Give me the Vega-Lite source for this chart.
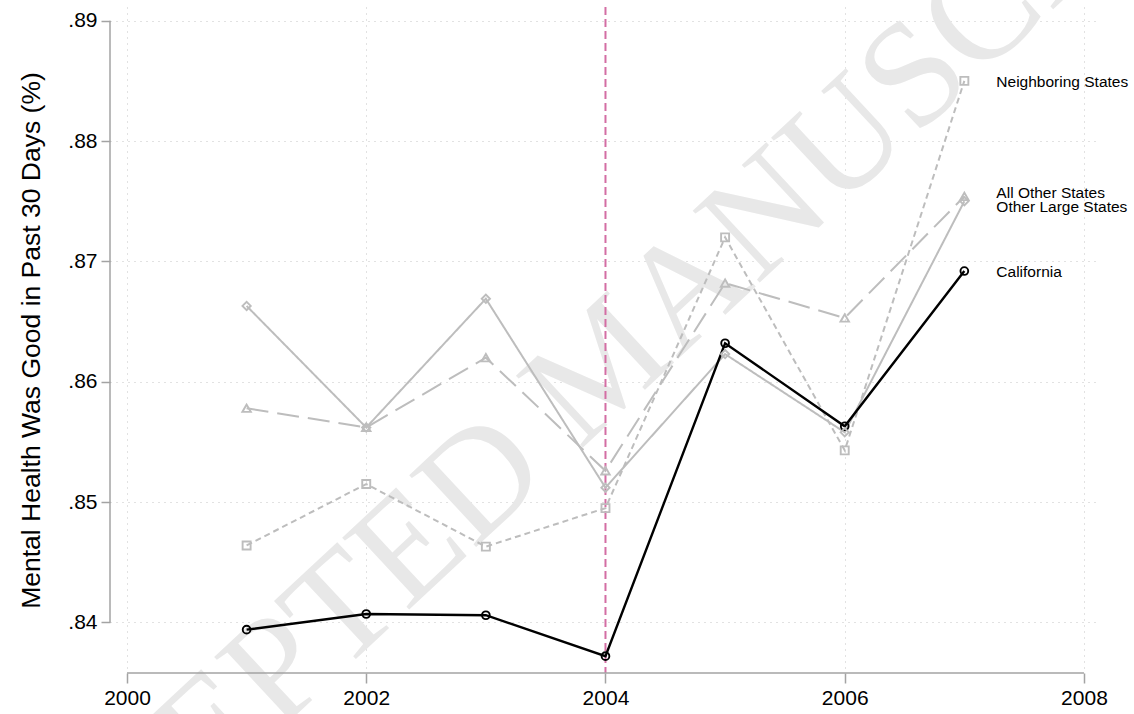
{
  "$schema": "https://vega.github.io/schema/vega-lite/v6.json",
  "width": 990,
  "height": 666,
  "autosize": {"type": "none"},
  "padding": {"left": 110, "top": 7, "right": 34, "bottom": 41},
  "background": "white",
  "config": {
    "view": {"stroke": null},
    "font": "Liberation Sans",
    "axis": {
      "labelFont": "Liberation Sans",
      "titleFont": "Liberation Sans",
      "labelColor": "black",
      "titleColor": "black",
      "titleFontWeight": "normal",
      "tickColor": "#a3a3a3",
      "tickWidth": 1.5,
      "gridColor": "#c4c4c4",
      "gridDash": [1, 5],
      "gridWidth": 1,
      "labelOverlap": false,
      "labelFlush": false,
      "labelBound": false
    }
  },
  "datasets": {
    "mental_health": [
      {"year": 2001, "series": "California", "value": 0.8394},
      {"year": 2002, "series": "California", "value": 0.8407},
      {"year": 2003, "series": "California", "value": 0.8406},
      {"year": 2004, "series": "California", "value": 0.8372},
      {"year": 2005, "series": "California", "value": 0.8632},
      {"year": 2006, "series": "California", "value": 0.8563},
      {"year": 2007, "series": "California", "value": 0.8692},
      {"year": 2001, "series": "Neighboring States", "value": 0.8464},
      {"year": 2002, "series": "Neighboring States", "value": 0.8515},
      {"year": 2003, "series": "Neighboring States", "value": 0.8463},
      {"year": 2004, "series": "Neighboring States", "value": 0.8495},
      {"year": 2005, "series": "Neighboring States", "value": 0.8720},
      {"year": 2006, "series": "Neighboring States", "value": 0.8543},
      {"year": 2007, "series": "Neighboring States", "value": 0.8850},
      {"year": 2001, "series": "Other Large States", "value": 0.8663},
      {"year": 2002, "series": "Other Large States", "value": 0.8562},
      {"year": 2003, "series": "Other Large States", "value": 0.8669},
      {"year": 2004, "series": "Other Large States", "value": 0.8512},
      {"year": 2005, "series": "Other Large States", "value": 0.8623},
      {"year": 2006, "series": "Other Large States", "value": 0.8558},
      {"year": 2007, "series": "Other Large States", "value": 0.8750},
      {"year": 2001, "series": "All Other States", "value": 0.8578},
      {"year": 2002, "series": "All Other States", "value": 0.8562},
      {"year": 2003, "series": "All Other States", "value": 0.8620},
      {"year": 2004, "series": "All Other States", "value": 0.8526},
      {"year": 2005, "series": "All Other States", "value": 0.8682},
      {"year": 2006, "series": "All Other States", "value": 0.8653},
      {"year": 2007, "series": "All Other States", "value": 0.8754}
    ]
  },
  "layer": [
    {
      "data": {"values": [{"stamp": "ACCEPTED MANUSCRIPT"}]},
      "mark": {"type": "text", "font": "Liberation Serif", "fontSize": 150, "angle": -43, "color": "#e8e8e8", "align": "center", "baseline": "middle"},
      "encoding": {
        "x": {"datum": 2004.0, "type": "quantitative", "scale": {"domain": [1999.858, 2008.134], "nice": false, "zero": false}},
        "y": {"datum": 0.8614, "type": "quantitative", "scale": {"domain": [0.8358, 0.89114], "nice": false, "zero": false}},
        "text": {"field": "stamp"}
      }
    },
    {
      "data": {"values": [{"policy_year": 2004}]},
      "mark": {"type": "rule", "color": "#d36ea4", "strokeWidth": 2, "strokeDash": [8, 4]},
      "encoding": {
        "x": {"field": "policy_year", "type": "quantitative", "title": null}
      }
    },
    {
      "data": {"values": [{}]},
      "mark": {"type": "rule", "color": "#a3a3a3", "strokeWidth": 1.5},
      "encoding": {
        "x": {"datum": 2000, "type": "quantitative"},
        "x2": {"datum": 2008},
        "y": {"datum": 0.8358, "type": "quantitative"}
      }
    },
    {
      "data": {"values": [{}]},
      "mark": {"type": "rule", "color": "#a3a3a3", "strokeWidth": 1.5},
      "encoding": {
        "y": {"datum": 0.84, "type": "quantitative"},
        "y2": {"datum": 0.89},
        "x": {"datum": 1999.858, "type": "quantitative"}
      }
    },
    {
      "data": {"name": "mental_health"},
      "transform": [{"filter": "datum.series !== 'California'"}],
      "mark": {"type": "line", "strokeWidth": 2, "color": "#bdbdbd"},
      "encoding": {
        "x": {
          "field": "year", "type": "quantitative",
          "scale": {"domain": [1999.858, 2008.134], "nice": false, "zero": false},
          "axis": {
            "values": [2000, 2002, 2004, 2006, 2008], "format": "d", "title": null,
            "domain": false, "grid": true, "tickSize": 10, "labelFontSize": 21, "labelPadding": 4
          }
        },
        "y": {
          "field": "value", "type": "quantitative",
          "scale": {"domain": [0.8358, 0.89114], "nice": false, "zero": false},
          "axis": {
            "values": [0.84, 0.85, 0.86, 0.87, 0.88, 0.89],
            "labelExpr": "substring(format(datum.value, '.2f'), 1)",
            "title": "Mental Health Was Good in Past 30 Days (%)",
            "titleFontSize": 26.5, "titlePadding": 22,
            "domain": false, "grid": true, "tickSize": 9, "labelFontSize": 21, "labelPadding": 4
          }
        },
        "detail": {"field": "series"},
        "strokeDash": {
          "field": "series", "type": "nominal", "legend": null,
          "scale": {"domain": ["Neighboring States", "Other Large States", "All Other States"], "range": [[6, 4], [1, 0], [22, 9]]}
        }
      }
    },
    {
      "data": {"name": "mental_health"},
      "transform": [{"filter": "datum.series === 'California'"}],
      "mark": {"type": "line", "strokeWidth": 2.4, "color": "black"},
      "encoding": {
        "x": {"field": "year", "type": "quantitative", "title": null},
        "y": {"field": "value", "type": "quantitative", "title": "Mental Health Was Good in Past 30 Days (%)"}
      }
    },
    {
      "data": {"name": "mental_health"},
      "mark": {"type": "point", "filled": false, "strokeWidth": 1.9, "opacity": 1},
      "encoding": {
        "x": {"field": "year", "type": "quantitative", "title": null},
        "y": {"field": "value", "type": "quantitative", "title": "Mental Health Was Good in Past 30 Days (%)"},
        "shape": {
          "field": "series", "type": "nominal", "legend": null,
          "scale": {"domain": ["California", "Neighboring States", "Other Large States", "All Other States"], "range": ["circle", "square", "diamond", "triangle-up"]}
        },
        "size": {
          "field": "series", "type": "nominal", "legend": null,
          "scale": {"domain": ["California", "Neighboring States", "Other Large States", "All Other States"], "range": [60, 72, 125, 95]}
        },
        "color": {
          "field": "series", "type": "nominal", "legend": null,
          "scale": {"domain": ["California", "Neighboring States", "Other Large States", "All Other States"], "range": ["black", "#bdbdbd", "#bdbdbd", "#bdbdbd"]}
        }
      }
    },
    {
      "data": {"name": "mental_health"},
      "transform": [{"filter": "datum.year === 2007 && (datum.series === 'California' || datum.series === 'Neighboring States')"}],
      "mark": {"type": "text", "align": "left", "baseline": "middle", "dx": 32, "dy": 1, "fontSize": 15.5, "color": "black"},
      "encoding": {
        "x": {"field": "year", "type": "quantitative", "title": null},
        "y": {"field": "value", "type": "quantitative", "title": "Mental Health Was Good in Past 30 Days (%)"},
        "text": {"field": "series"}
      }
    },
    {
      "data": {"name": "mental_health"},
      "transform": [{"filter": "datum.year === 2007 && datum.series === 'All Other States'"}],
      "mark": {"type": "text", "align": "left", "baseline": "middle", "dx": 32, "dy": -3, "fontSize": 15.5, "color": "black"},
      "encoding": {
        "x": {"field": "year", "type": "quantitative", "title": null},
        "y": {"field": "value", "type": "quantitative", "title": "Mental Health Was Good in Past 30 Days (%)"},
        "text": {"field": "series"}
      }
    },
    {
      "data": {"name": "mental_health"},
      "transform": [{"filter": "datum.year === 2007 && datum.series === 'Other Large States'"}],
      "mark": {"type": "text", "align": "left", "baseline": "middle", "dx": 32, "dy": 6, "fontSize": 15.5, "color": "black"},
      "encoding": {
        "x": {"field": "year", "type": "quantitative", "title": null},
        "y": {"field": "value", "type": "quantitative", "title": "Mental Health Was Good in Past 30 Days (%)"},
        "text": {"field": "series"}
      }
    }
  ]
}
